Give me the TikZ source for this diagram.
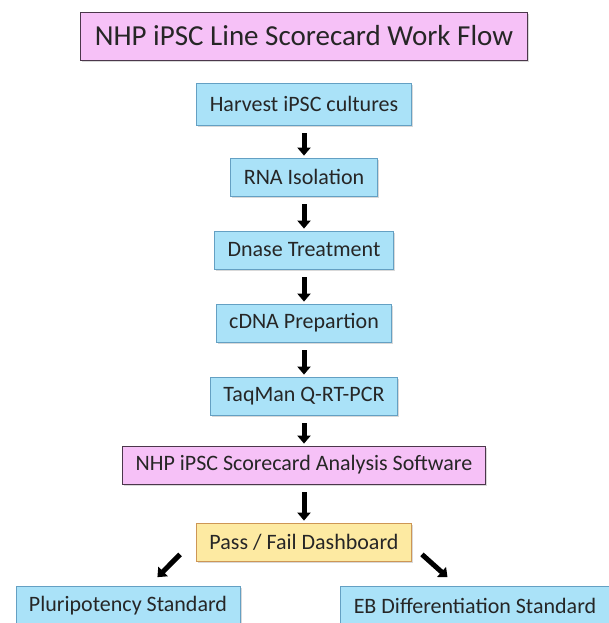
\documentclass[tikz,border=0pt]{standalone}
\usepackage{fontspec}
\setmainfont{Carlito}
\usetikzlibrary{arrows.meta,shadows}
\definecolor{boxblue}{RGB}{170,226,248}
\definecolor{lineblue}{RGB}{100,160,195}
\definecolor{boxpink}{RGB}{246,193,247}
\definecolor{linepink}{RGB}{75,55,75}
\definecolor{boxyellow}{RGB}{253,234,162}
\definecolor{lineyellow}{RGB}{205,150,85}
\begin{document}
\begin{tikzpicture}[x=1pt, y=-1pt, node distance=73pt]
    \tikzstyle{stepbox}=[rectangle, draw=lineblue, fill=boxblue, line width=0.8pt, minimum height=38pt, inner xsep=13pt, font=\fontsize{22pt}{26pt}\selectfont, text=black!85, drop shadow={shadow xshift=1.5pt, shadow yshift=-2pt, opacity=0.3}]
    \tikzstyle{pinkbox}=[stepbox, draw=linepink, fill=boxpink]
    \tikzstyle{passbox}=[stepbox, draw=lineyellow, fill=boxyellow]
    \tikzstyle{flow}=[line width=5pt, -{Triangle[width=13pt, length=8pt]}, shorten <=8pt, shorten >=2pt]
    \useasboundingbox (0,0) rectangle (608,623);

    \node (title) [pinkbox, minimum height=48pt, inner xsep=14pt, font=\fontsize{29pt}{34pt}\selectfont] at (304,36) {NHP iPSC Line Scorecard Work Flow};
    \node (harvest) [stepbox, minimum height=42pt] [below of=title, node distance=68pt] {Harvest iPSC cultures};
    \node (rna) [stepbox] [below of=harvest] {RNA Isolation};
    \node (dnase) [stepbox] [below of=rna] {Dnase Treatment};
    \node (cdna) [stepbox] [below of=dnase] {cDNA Prepartion};
    \node (taqman) [stepbox] [below of=cdna] {TaqMan Q-RT-PCR};
    \node (analysis) [pinkbox] [below of=taqman, node distance=69pt] {NHP iPSC Scorecard Analysis Software};
    \node (pass) [passbox] [below of=analysis, node distance=77pt] {Pass / Fail Dashboard};
    \node (pluri) [stepbox, minimum height=40pt] [below of=pass, node distance=64pt, xshift=-176pt] {Pluripotency Standard};
    \node (eb) [stepbox, minimum height=40pt] [below of=pass, node distance=64pt, xshift=171pt] {EB Differentiation Standard};

    \draw [flow] (harvest) -- (rna);
    \draw [flow] (rna) -- (dnase);
    \draw [flow] (dnase) -- (cdna);
    \draw [flow] (cdna) -- (taqman);
    \draw [flow] (taqman) -- (analysis);
    \draw [flow] (analysis) -- (pass);

    \coordinate (left-out) at ([xshift=-16pt, yshift=7pt]pass.south west);
    \coordinate (right-out) at ([xshift=10pt, yshift=7pt]pass.south east);
    \draw [flow, shorten <=0pt] (left-out) -- ([xshift=28pt, yshift=7pt]pluri.north);
    \draw [flow, shorten <=0pt] (right-out) -- ([xshift=-26pt, yshift=7pt]eb.north);
\end{tikzpicture}
\end{document}
